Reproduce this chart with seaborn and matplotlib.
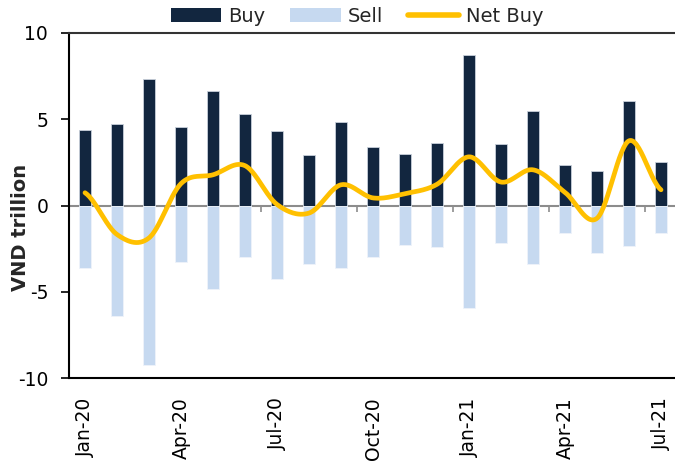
import numpy as np
import pandas as pd
import seaborn as sns
from matplotlib import pyplot as plt
from matplotlib.lines import Line2D
from matplotlib.patches import Patch

MONTHS = [
    "Jan-20", "Feb-20", "Mar-20", "Apr-20", "May-20", "Jun-20", "Jul-20",
    "Aug-20", "Sep-20", "Oct-20", "Nov-20", "Dec-20", "Jan-21", "Feb-21",
    "Mar-21", "Apr-21", "May-21", "Jun-21", "Jul-21",
]
BUY = [4.35, 4.73, 7.34, 4.54, 6.61, 5.31, 4.33, 2.94, 4.83, 3.42,
       2.97, 3.63, 8.75, 3.54, 5.49, 2.36, 2.01, 6.07, 2.51]
SELL = [-3.61, -6.41, -9.22, -3.27, -4.83, -3.00, -4.27, -3.38, -3.63, -2.98,
        -2.28, -2.40, -5.93, -2.18, -3.42, -1.60, -2.75, -2.32, -1.60]
NET_BUY = [0.74, -1.68, -1.88, 1.27, 1.78, 2.31, 0.06, -0.44, 1.20, 0.44,
           0.69, 1.23, 2.82, 1.36, 2.07, 0.76, -0.74, 3.75, 0.91]
SHOWN_LABELS = ["Jan-20", "Apr-20", "Jul-20", "Oct-20", "Jan-21", "Apr-21", "Jul-21"]

NAVY = "#12263f"
LIGHT = "#c6d9f0"
GOLD = "#ffc000"
GREY = "#8c8c8c"


def smooth_line(values, steps=30):
    # Excel-style smoothed line: cubic bezier per segment, control points at 1/6 of neighbour slope
    y = np.asarray(values, dtype=float)
    n = len(y)
    xs, ys = [], []
    for i in range(n - 1):
        p0 = y[i - 1] if i > 0 else y[i]
        p1, p2 = y[i], y[i + 1]
        p3 = y[i + 2] if i + 2 < n else y[i + 1]
        c1 = p1 + (p2 - p0) / 6
        c2 = p2 - (p3 - p1) / 6
        t = np.linspace(0, 1, steps, endpoint=(i == n - 2))
        b = (1 - t) ** 3 * p1 + 3 * (1 - t) ** 2 * t * c1 + 3 * (1 - t) * t ** 2 * c2 + t ** 3 * p2
        xs.append(i + t)
        ys.append(b)
    return np.concatenate(xs), np.concatenate(ys)


df = pd.DataFrame({"month": MONTHS, "buy": BUY, "sell": SELL, "net": NET_BUY})

sns.set_style("white")
plt.rcParams["font.family"] = ["DejaVu Sans"]

fig = plt.figure(figsize=(6.75, 4.66), dpi=100)
ax = fig.add_axes([69 / 675, 88 / 466, 608 / 675, 345 / 466])

# zero axis line, grey, under the bars
ax.axhline(0, color=GREY, lw=1.5, zorder=1)

sns.barplot(data=df, x="month", y="buy", order=MONTHS, color=NAVY, saturation=1,
            width=0.4, edgecolor="#c8d0da", linewidth=0.6, ax=ax, zorder=2)
sns.barplot(data=df, x="month", y="sell", order=MONTHS, color=LIGHT, saturation=1,
            width=0.4, edgecolor="#eef3fa", linewidth=0.6, ax=ax, zorder=2)

sx, sy = smooth_line(df["net"])
ax.plot(sx, sy, color=GOLD, lw=3.4, solid_capstyle="round", zorder=4)

ax.set_xlim(-0.5, len(MONTHS) - 0.5)
ax.set_ylim(-10, 10)
ax.set_yticks([-10, -5, 0, 5, 10])
ax.set_yticklabels(["-10", "-5", "0", "5", "10"])

pos = [MONTHS.index(m) for m in SHOWN_LABELS]
ax.set_xticks(pos)
ax.set_xticklabels(SHOWN_LABELS, rotation=90)
ax.tick_params(axis="x", length=0, pad=14, labelsize=13.5, colors="black")
ax.tick_params(axis="y", length=6, width=1.2, pad=9, labelsize=13.5, colors="black",
               direction="out", left=True)
ax.set_xlabel("")
ax.set_ylabel("VND trillion", fontsize=14, fontweight="bold")
ax.yaxis.set_label_coords(-0.064, 0.435)

for side in ["left", "bottom"]:
    ax.spines[side].set_color("black")
    ax.spines[side].set_linewidth(1.5)
ax.spines["top"].set_color("#333333")
ax.spines["top"].set_linewidth(1.5)
ax.spines["right"].set_visible(False)

# small grey ticks below the zero line between quarters
zero = ax.secondary_xaxis(0.5)
for s in zero.spines.values():
    s.set_visible(False)
zero.set_xticks(np.arange(-0.5, len(MONTHS), 3))
zero.set_xticklabels([])
zero.tick_params(axis="x", length=5, width=1.2, color=GREY, direction="in")

handles = [
    Patch(facecolor=NAVY, edgecolor="none", label="Buy"),
    Patch(facecolor=LIGHT, edgecolor="none", label="Sell"),
    Line2D([], [], color=GOLD, lw=4, solid_capstyle="round", label="Net Buy"),
]
fig.legend(handles=handles, loc="center", bbox_to_anchor=(357 / 675, 1 - 16 / 466),
           ncol=3, frameon=False, fontsize=14, handlelength=2.6, handleheight=0.72,
           handletextpad=0.35, columnspacing=1.3, borderpad=0)

fig.savefig("out.png", dpi=100)
